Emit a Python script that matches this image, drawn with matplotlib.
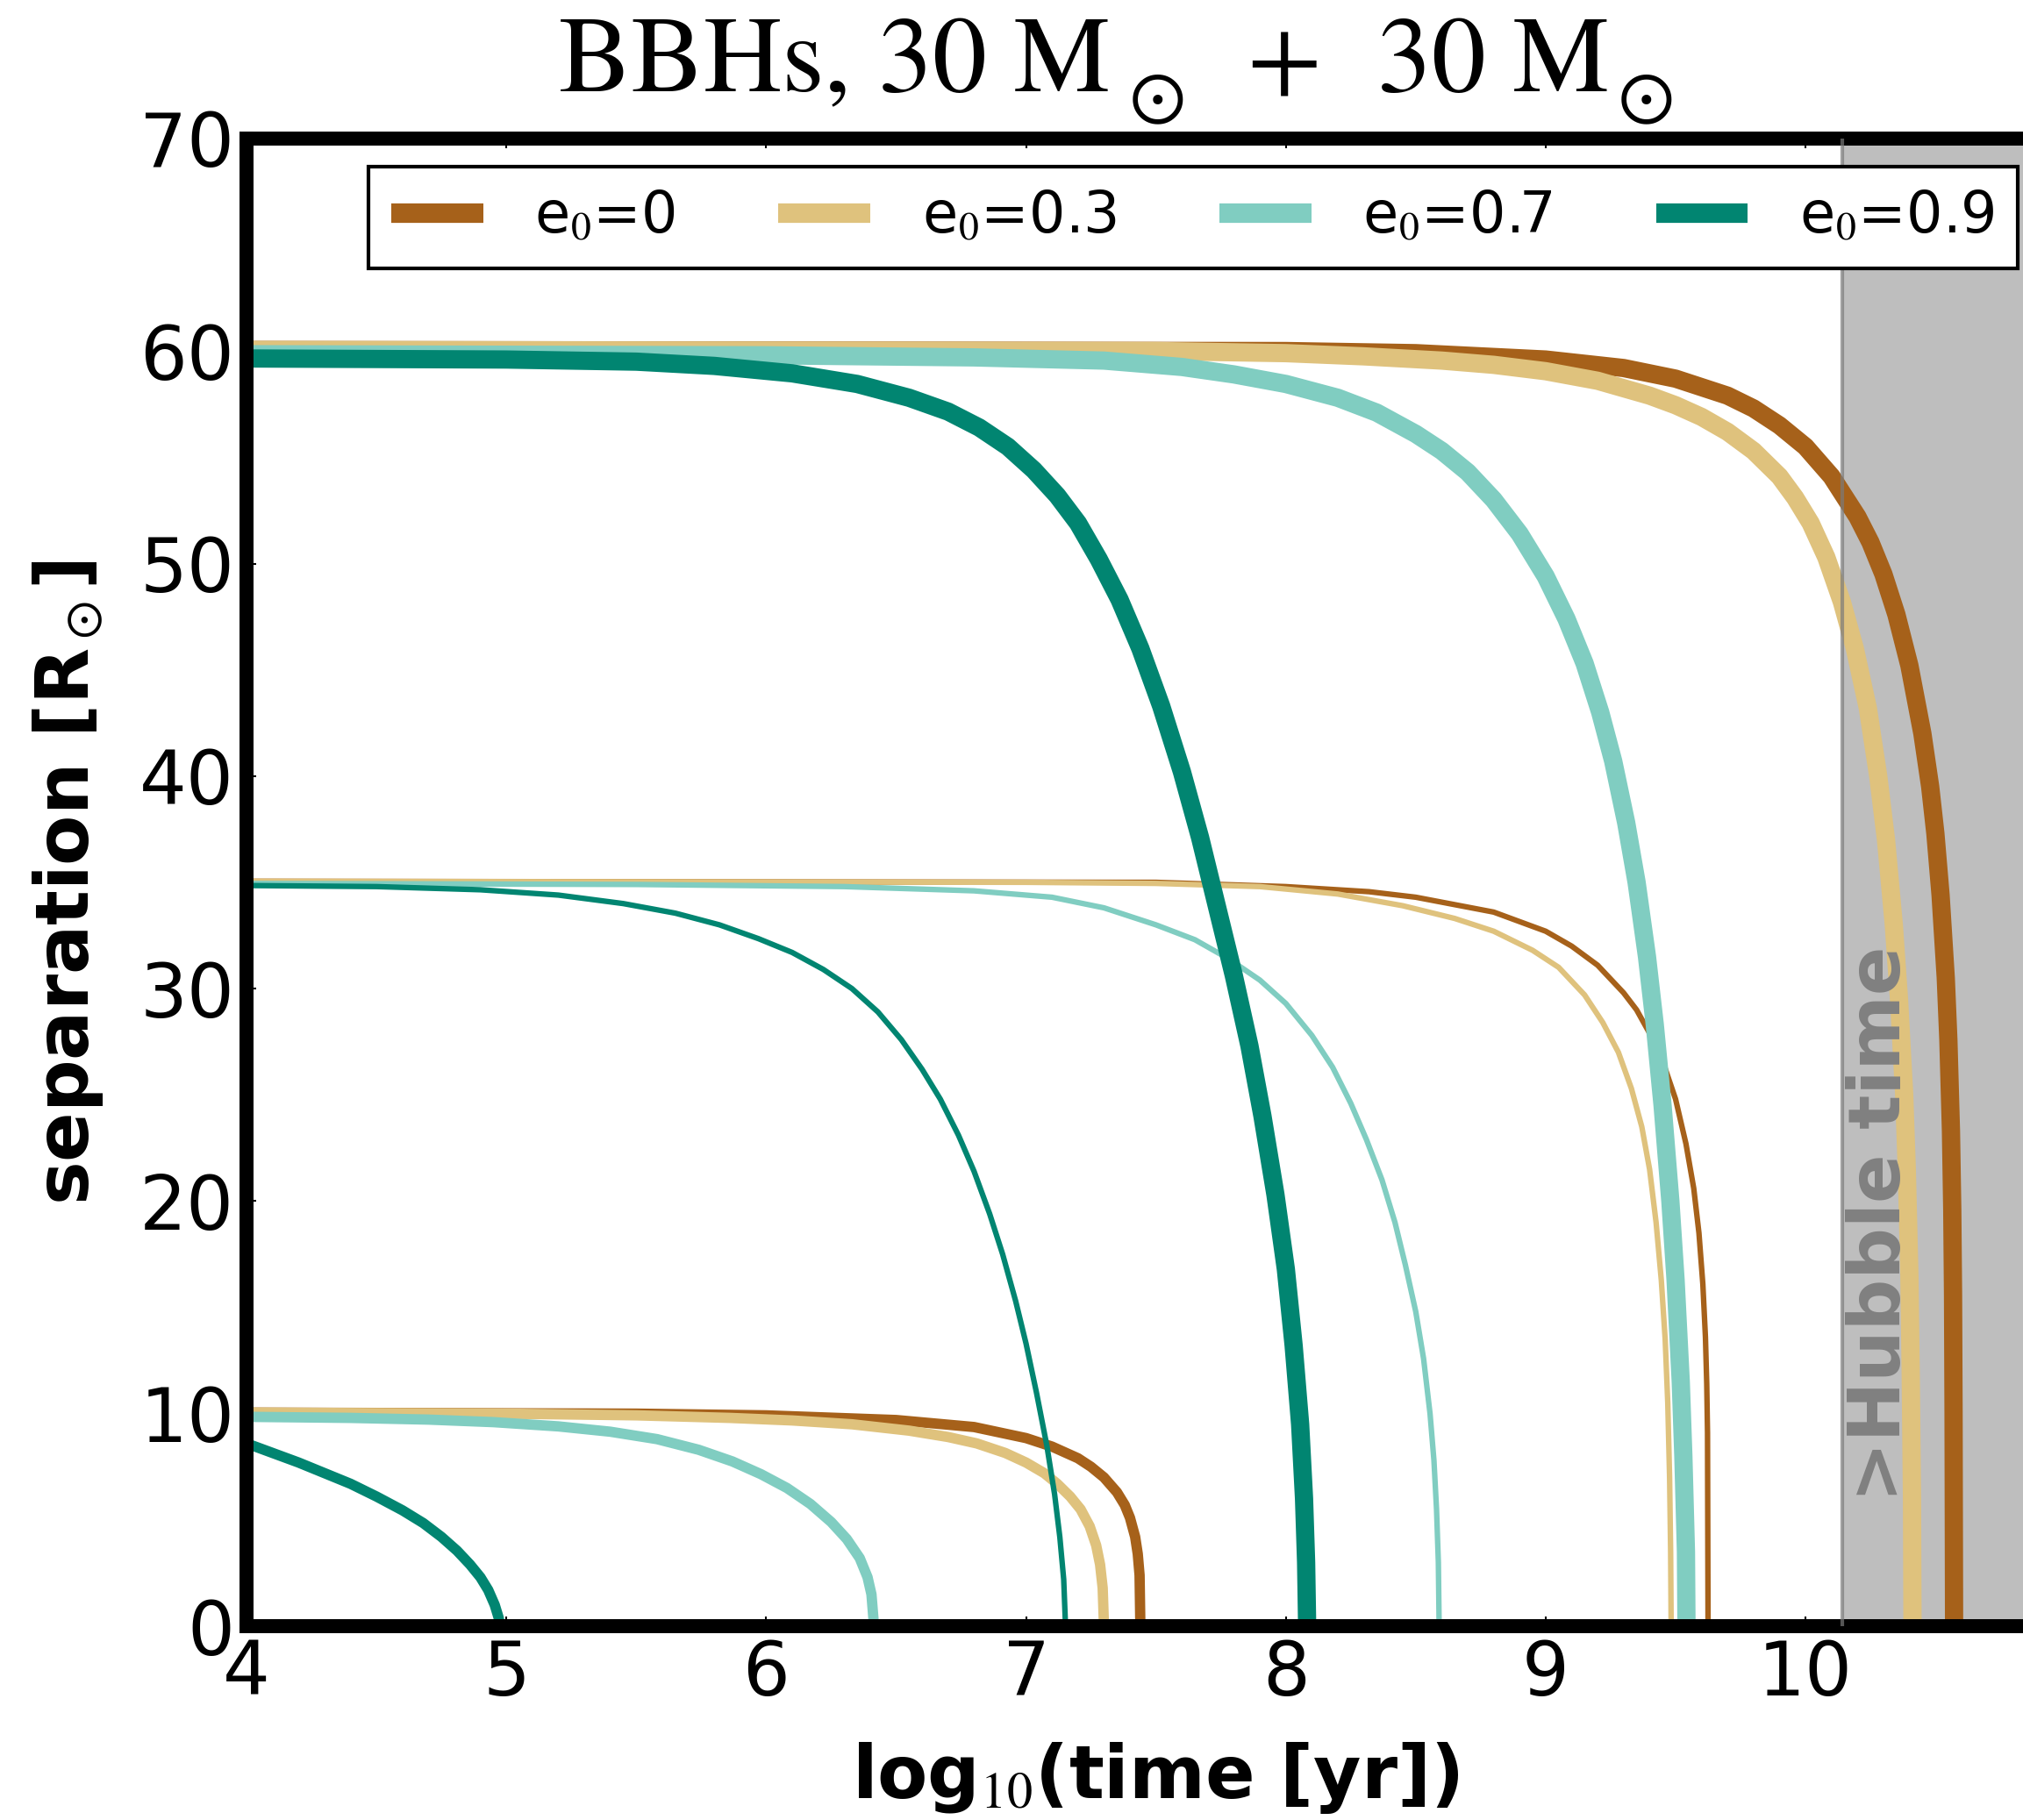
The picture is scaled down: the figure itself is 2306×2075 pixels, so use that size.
#----------------------------------------------------------------------
# Orbital decay of 30+30 Msun BBHs for a few initial eccentricities
#----------------------------------------------------------------------

import matplotlib

matplotlib.use('Agg')

import matplotlib.pyplot as plt
from matplotlib.lines import Line2D

plt.rcParams['font.family'] = 'DejaVu Sans'
plt.rcParams['mathtext.fontset'] = 'stix'

ecc_labels = [r'e$_0$=0', r'e$_0$=0.3', r'e$_0$=0.7', r'e$_0$=0.9']
ecc_colors = ['#a6611a', '#dfc27d', '#80cdc1', '#018571']
hubble_logt = 10.14

# a0 = 60 Rsun
logt_60_e00 = [4.0, 8.0, 8.5, 9.0, 9.3, 9.5, 9.7, 9.8, 9.9, 10.0, 10.1, 10.2, 10.25, 10.3, 10.35, 10.4,
               10.45, 10.48, 10.5, 10.52, 10.54, 10.55, 10.56, 10.565, 10.568, 10.57, 10.571, 10.572]
sep_60_e00 = [60.05, 60.0, 59.9, 59.6, 59.2, 58.7, 57.9, 57.3, 56.5, 55.5, 54.1, 52.2, 51.0, 49.5, 47.6, 45.2,
              42.0, 39.5, 37.3, 34.4, 30.5, 27.6, 23.3, 19.6, 15.6, 10.0, 5.0, 0.0]
logt_60_e03 = [4.0, 7.5, 8.0, 8.3, 8.6, 8.8, 9.0, 9.2, 9.4, 9.5, 9.6, 9.7, 9.8, 9.9, 9.96, 10.02, 10.08,
               10.14, 10.19, 10.24, 10.28, 10.31, 10.34, 10.36, 10.38, 10.39, 10.40, 10.405, 10.41, 10.412]
sep_60_e03 = [60.05, 60.0, 59.9, 59.75, 59.55, 59.35, 59.05, 58.6, 57.9, 57.45, 56.9, 56.2, 55.3, 54.1, 53.1, 51.9, 50.3,
              48.2, 46.0, 43.2, 40.0, 37.0, 33.0, 29.5, 25.0, 21.5, 16.5, 12.0, 6.0, 0.0]
logt_60_e07 = [4.0, 6.0, 6.8, 7.3, 7.6, 7.8, 8.0, 8.2, 8.35, 8.5, 8.6, 8.7, 8.8, 8.9, 9.0, 9.08, 9.15,
               9.21, 9.26, 9.31, 9.35, 9.39, 9.42, 9.45, 9.48, 9.50, 9.52, 9.53, 9.54, 9.542]
sep_60_e07 = [59.85, 59.8, 59.7, 59.55, 59.25, 58.9, 58.45, 57.8, 57.1, 56.1, 55.3, 54.3, 53.0, 51.4, 49.4, 47.4, 45.3,
              43.0, 40.7, 37.8, 35.0, 31.5, 28.3, 24.5, 20.0, 16.3, 11.5, 8.0, 3.5, 0.0]
logt_60_e09 = [4.0, 5.0, 5.5, 5.8, 6.1, 6.35, 6.55, 6.7, 6.82, 6.93, 7.03, 7.12, 7.2, 7.28, 7.36, 7.44,
               7.52, 7.6, 7.67, 7.74, 7.8, 7.86, 7.91, 7.96, 8.0, 8.03, 8.055, 8.07, 8.078, 8.082]
sep_60_e09 = [59.65, 59.6, 59.5, 59.3, 58.95, 58.45, 57.8, 57.15, 56.4, 55.5, 54.4, 53.2, 51.9, 50.2, 48.3, 46.0,
              43.3, 40.2, 37.1, 33.6, 30.6, 27.3, 24.0, 20.3, 16.8, 13.2, 9.5, 6.0, 3.0, 0.0]

# a0 = 35 Rsun
logt_35_e00 = [4.0, 7.5, 8.0, 8.32, 8.5, 8.8, 9.0, 9.1, 9.2, 9.3, 9.35, 9.4, 9.45, 9.5, 9.54, 9.57,
               9.59, 9.605, 9.615, 9.62, 9.623, 9.625]
sep_35_e00 = [35.05, 35.0, 34.8, 34.56, 34.3, 33.6, 32.7, 32.0, 31.1, 29.8, 29.0, 27.9, 26.6, 24.8, 22.7, 20.6,
              18.5, 16.1, 13.6, 11.4, 9.1, 0.0]
logt_35_e03 = [4.0, 7.0, 7.5, 7.9, 8.2, 8.45, 8.65, 8.8, 8.95, 9.05, 9.15, 9.22, 9.28, 9.33, 9.37, 9.40,
               9.425, 9.445, 9.46, 9.47, 9.477, 9.481, 9.483]
sep_35_e03 = [35.05, 35.0, 34.95, 34.8, 34.45, 33.9, 33.3, 32.7, 31.8, 31.0, 29.7, 28.4, 27.0, 25.3, 23.5, 21.5,
              19.0, 16.3, 13.5, 10.5, 7.0, 3.5, 0.0]
logt_35_e07 = [4.0, 5.5, 6.3, 6.8, 7.1, 7.3, 7.5, 7.65, 7.78, 7.9, 8.0, 8.1, 8.18, 8.25, 8.31, 8.37,
               8.42, 8.46, 8.5, 8.53, 8.555, 8.57, 8.58, 8.587, 8.59]
sep_35_e07 = [34.95, 34.9, 34.8, 34.6, 34.3, 33.8, 33.0, 32.3, 31.4, 30.4, 29.3, 27.8, 26.3, 24.6, 22.9, 21.0,
              19.0, 17.0, 14.8, 12.6, 10.0, 7.8, 5.5, 3.0, 0.0]
logt_35_e09 = [4.0, 4.5, 4.9, 5.2, 5.45, 5.65, 5.82, 5.97, 6.1, 6.22, 6.33, 6.43, 6.52, 6.6, 6.67, 6.74,
               6.8, 6.86, 6.91, 6.96, 7.0, 7.04, 7.08, 7.11, 7.13, 7.145, 7.152]
sep_35_e09 = [34.85, 34.8, 34.65, 34.4, 34.0, 33.55, 33.0, 32.35, 31.7, 30.9, 30.0, 28.9, 27.6, 26.2, 24.8, 23.1,
              21.4, 19.4, 17.5, 15.3, 13.3, 11.0, 8.5, 6.2, 4.2, 2.2, 0.0]

# a0 = 10 Rsun
logt_10_e00 = [4.0, 5.5, 6.0, 6.5, 6.8, 7.0, 7.1, 7.2, 7.25, 7.3, 7.35, 7.38, 7.40, 7.42, 7.43, 7.437, 7.44]
sep_10_e00 = [10.05, 10.0, 9.92, 9.7, 9.37, 8.85, 8.45, 7.9, 7.5, 7.0, 6.3, 5.7, 5.1, 4.2, 3.4, 2.4, 0.0]
logt_10_e03 = [4.0, 5.0, 5.5, 5.86, 6.1, 6.33, 6.55, 6.7, 6.81, 6.92, 7.0, 7.07, 7.12, 7.17, 7.21, 7.245,
               7.27, 7.285, 7.295, 7.30]
sep_10_e03 = [10.05, 10.0, 9.92, 9.8, 9.68, 9.5, 9.2, 8.9, 8.6, 8.15, 7.7, 7.2, 6.7, 6.1, 5.5, 4.7,
              3.8, 2.9, 1.8, 0.0]
logt_10_e07 = [4.0, 4.4, 4.7, 4.95, 5.2, 5.4, 5.58, 5.74, 5.87, 5.98, 6.08, 6.17, 6.25, 6.31, 6.36, 6.39,
               6.405, 6.415]
sep_10_e07 = [9.85, 9.8, 9.72, 9.6, 9.4, 9.15, 8.8, 8.3, 7.75, 7.15, 6.5, 5.75, 4.9, 4.1, 3.2, 2.3,
              1.5, 0.0]
logt_10_e09 = [4.0, 4.1, 4.2, 4.3, 4.4, 4.5, 4.6, 4.68, 4.75, 4.81, 4.86, 4.9, 4.93, 4.955, 4.97, 4.975]
sep_10_e09 = [8.6, 8.15, 7.7, 7.2, 6.7, 6.1, 5.45, 4.85, 4.2, 3.55, 2.9, 2.3, 1.7, 1.0, 0.4, 0.0]

# eccentricity outer, separation inner (that is the draw order in the figure)
curves = [
    [(logt_60_e00, sep_60_e00), (logt_35_e00, sep_35_e00), (logt_10_e00, sep_10_e00)],
    [(logt_60_e03, sep_60_e03), (logt_35_e03, sep_35_e03), (logt_10_e03, sep_10_e03)],
    [(logt_60_e07, sep_60_e07), (logt_35_e07, sep_35_e07), (logt_10_e07, sep_10_e07)],
    [(logt_60_e09, sep_60_e09), (logt_35_e09, sep_35_e09), (logt_10_e09, sep_10_e09)],
]
widths = [15, 4.5, 8.5]

W, H = 2306., 2075.


def plot_decay():

    fig = plt.figure(figsize=(W / 100, H / 100), dpi=100)
    ax = fig.add_axes([0.1219, 0.1065, 0.899, 0.8174])

    ax.axvspan(hubble_logt, 11, facecolor='#bebebe', edgecolor='none', zorder=0.5)
    ax.axvline(hubble_logt, color='#7a7a7a', lw=3, alpha=0.7, zorder=4)

    for ie, group in enumerate(curves):
        for ia, (xx, yy) in enumerate(group):
            ax.plot(xx, yy, color=ecc_colors[ie], lw=widths[ia],
                    solid_joinstyle='round', solid_capstyle='butt', zorder=2)

    ax.text(10.29, 5.85, '>Hubble time', rotation=90, color='#808080',
            fontsize=59, weight='bold', ha='center', va='bottom', zorder=5)

    ax.set_xlim(4, 11)
    ax.set_ylim(0, 70)
    ax.set_xticks(range(4, 11))
    ax.set_yticks(range(0, 71, 10))
    ax.tick_params(direction='in', length=8, width=1.5, labelsize=61, pad=10,
                   top=True, right=True)
    for sp in ax.spines.values():
        sp.set_linewidth(11.5)

    ax.set_xlabel(r'log$_{10}$(time [yr])', fontsize=60, weight='bold', labelpad=24)
    ax.set_ylabel(r'separation [R$_\odot$]', fontsize=60, weight='bold', labelpad=28)

    handles = [Line2D([], [], color=c, lw=16, solid_capstyle='butt') for c in ecc_colors]
    leg = ax.legend(handles, ecc_labels, loc='upper left',
                    bbox_to_anchor=(420 / W, 1 - 190 / H),
                    bbox_transform=fig.transFigure, ncol=4, fontsize=47,
                    fancybox=False, framealpha=1, edgecolor='black',
                    handlelength=1.6, handletextpad=0.9, columnspacing=1.8,
                    borderpad=0.4, borderaxespad=0)
    leg.get_frame().set_linewidth(3)
    leg.set_zorder(6)

    # title, pieced together so the sun symbols sit low like in the original
    ty = 1 - 104 / H
    sy = 1 - 134 / H
    tkw = dict(family='STIXGeneral', fontsize=89, va='baseline', ha='left')
    skw = dict(family='STIXGeneral', fontsize=62, va='baseline', ha='left')
    fig.text(637 / W, ty, 'BBHs, 30 M', **tkw)
    fig.text(1287 / W, sy, '\u2299', **skw)
    fig.text(1421 / W, ty, '+', **tkw)
    fig.text(1570 / W, ty, '30 M', **tkw)
    fig.text(1844 / W, sy, '\u2299', **skw)

    fig.savefig('out.png', dpi=100)

    return


if __name__ == "__main__":

    plot_decay()
